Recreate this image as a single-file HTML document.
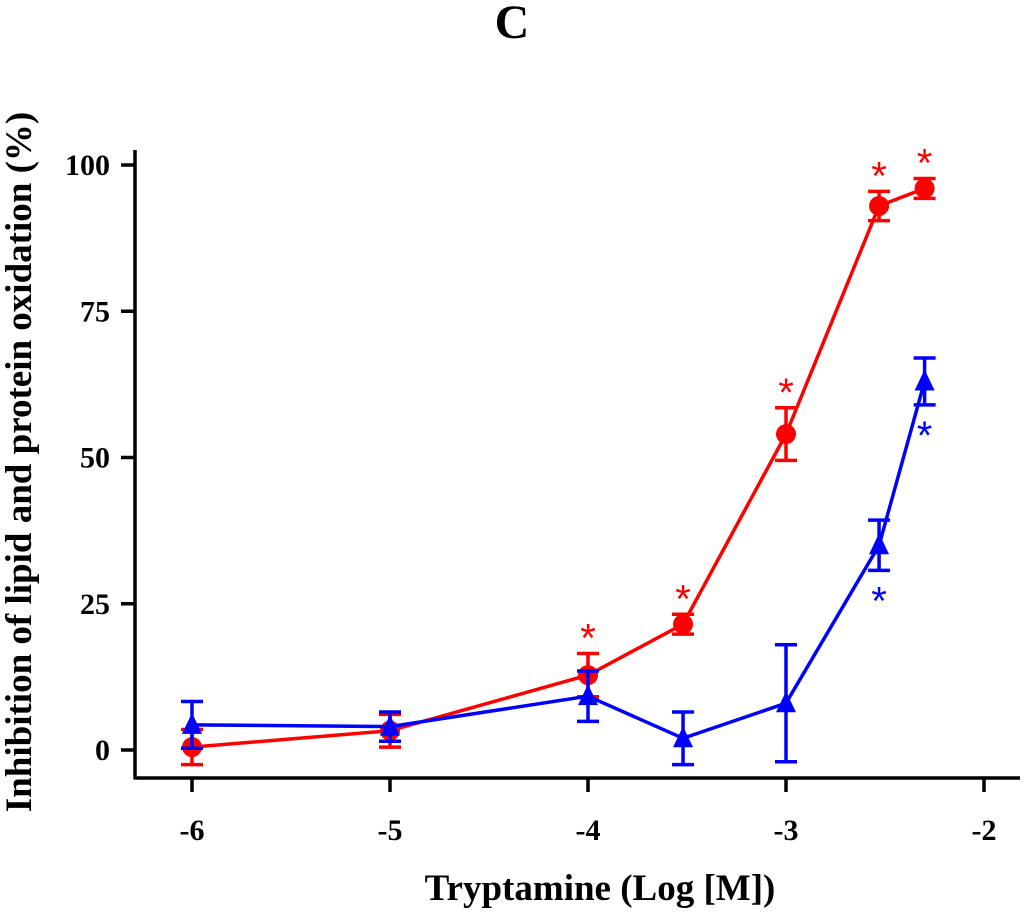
<!DOCTYPE html>
<html><head><meta charset="utf-8"><style>
html,body{margin:0;padding:0;background:#fff;}
svg{display:block;font-family:"Liberation Serif",serif;font-weight:bold;}
</style></head><body>
<svg id="chart" width="1024" height="915" viewBox="0 0 1024 915">
<text x="512" y="38" font-size="48" text-anchor="middle">C</text>
<text x="600" y="900" font-size="37" text-anchor="middle">Tryptamine (Log [M])</text>
<text transform="translate(31,462) rotate(-90)" font-size="37" text-anchor="middle">Inhibition of lipid and protein oxidation (%)</text>
<g id="axes"></g>
<g id="marks"></g>
</svg>
<script>
const xTicks=[-6,-5,-4,-3,-2];
const yTicks=[0,25,50,75,100];
const xVals=[-6,-5,-4,-3.52,-3,-2.53,-2.3];
const redVals=[0.5,3.3,12.8,21.5,54,93,96];
const redErr=[3,2.8,3.7,1.7,4.5,2.5,1.7];
const blueVals=[4.3,4,9.2,2,8,35,63];
const blueErr=[4,2.5,4.3,4.5,10,4.3,4];
const redStars=[false,false,true,true,true,true,true];
const blueStars=[false,false,false,false,false,true,true];
const NS="http://www.w3.org/2000/svg";
const X=v=>192+(v+6)*198;
const Y=v=>750-v*5.85;
function mk(tag,attrs,parent){const e=document.createElementNS(NS,tag);for(const k in attrs)e.setAttribute(k,attrs[k]);parent.appendChild(e);return e;}
const axes=document.getElementById('axes'),marks=document.getElementById('marks');
let l=mk('line',{x1:135,y1:778,x2:1020,y2:778,stroke:'#000','stroke-width':3.5},axes);


l=mk('line',{x1:135,y1:150,x2:135,y2:779.5,stroke:'#000','stroke-width':3.5},axes);


xTicks.forEach(t=>{
 const tk=mk('line',{x1:X(t),y1:778,x2:X(t),y2:792,stroke:'#000','stroke-width':3.5},axes);
 
 
 const tx=mk('text',{x:X(t),y:840,'font-size':30,'text-anchor':'middle'},axes);tx.textContent=t;
 
 
});
yTicks.forEach(t=>{
 const tk=mk('line',{x1:121,y1:Y(t),x2:135,y2:Y(t),stroke:'#000','stroke-width':3.5},axes);
 
 
 const tx=mk('text',{x:110,y:Y(t)+10,'font-size':30,'text-anchor':'end'},axes);tx.textContent=t;
 
 
});
function series(vals,err,stars,color,shape,name,starBelow){
 const g=mk('g',{},marks);
 
 
 const pl=mk('polyline',{points:vals.map((v,i)=>X(xVals[i])+','+Y(v)).join(' '),fill:'none',stroke:color,'stroke-width':3.5},g);
 
 
 vals.forEach((v,i)=>{
  const x=X(xVals[i]),y=Y(v),e=err[i];
  const eb=mk('path',{d:`M${x},${Y(v-e)}V${Y(v+e)}M${x-11},${Y(v+e)}H${x+11}M${x-11},${Y(v-e)}H${x+11}`,stroke:color,'stroke-width':3.5,fill:'none'},g);
  
  
  let p;
  if(shape==='circle')p=mk('circle',{cx:x,cy:y,r:10,fill:color},g);
  else p=mk('polygon',{points:`${x},${y-12} ${x-10},${y+9} ${x+10},${y+9}`,fill:color},g);
  
  
  if(stars[i]){
   const sy=starBelow?Y(v-e)+44:Y(v+e)-2;
   const s=mk('text',{x:x,y:sy,'font-size':40,'text-anchor':'middle',fill:color,'font-family':'Liberation Sans,sans-serif','font-weight':'normal'},g);
   s.textContent='*';
   
   
  }
 });
}
series(redVals,redErr,redStars,'#f00','circle','red',false);
series(blueVals,blueErr,blueStars,'#00f','triangle','blue',true);
</script>
</body></html>
